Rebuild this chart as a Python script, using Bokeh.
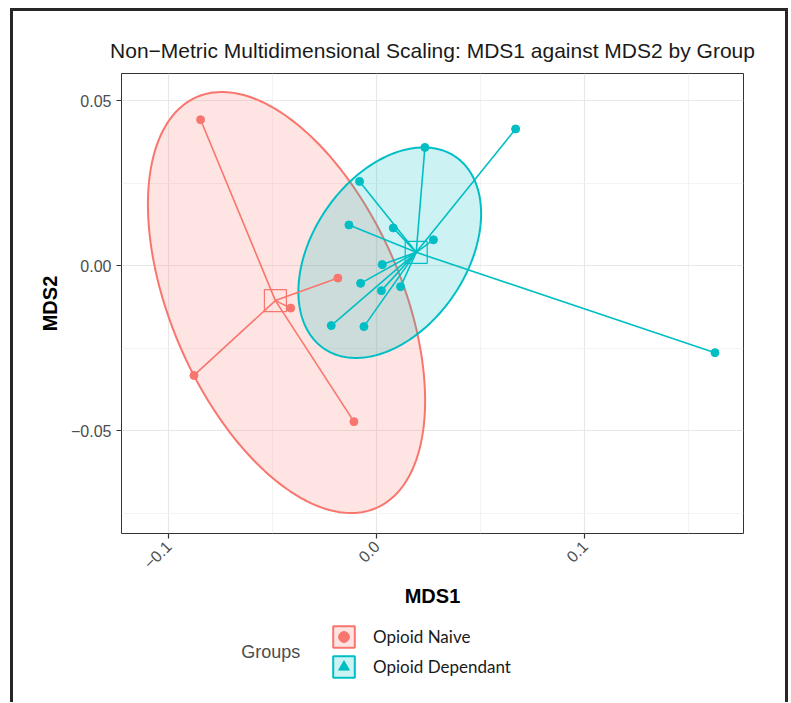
import numpy as np
from bokeh.plotting import figure
from bokeh.models import FixedTicker, Range1d, Legend, LegendItem, ColumnDataSource
from bokeh.layouts import column
from bokeh.embed import file_html
from bokeh.resources import INLINE
from bokeh.core.properties import value

# ---------------- data ----------------
groups = ["Opioid Naive", "Opioid Dependant"]
colors = ["#F8766D", "#00BFC4"]

naive_mds1 = [-0.0846, -0.0186, -0.0413, -0.0878, -0.0109]
naive_mds2 = [0.0442, -0.0038, -0.0129, -0.0333, -0.0473]

dep_mds1 = [0.0668, 0.0232, -0.0082, -0.0133, 0.0080, 0.0273, 0.0027,
            -0.0077, 0.0023, 0.0115, -0.0218, -0.0061, 0.1626]
dep_mds2 = [0.0414, 0.0358, 0.0255, 0.0123, 0.0114, 0.0078, 0.0003,
            -0.0054, -0.0076, -0.0064, -0.0182, -0.0185, -0.0264]

# 95% ellipses: centre, half extents, correlation
ell_cx = [-0.0433, 0.0063]
ell_cy = [-0.0112, 0.0039]
ell_hx = [0.0666, 0.0439]
ell_hy = [0.0638, 0.0319]
ell_rho = [-0.466, 0.370]

x_ticks = [-0.1, 0.0, 0.1]
x_tick_labels = ["\u22120.1", "0.0", "0.1"]
x_minor = [-0.05, 0.05, 0.15]
y_ticks = [-0.05, 0.0, 0.05]
y_tick_labels = ["\u22120.05", "0.00", "0.05"]
y_minor = [-0.075, -0.025, 0.025]
x_lim = (-0.1226, 0.1763)
y_lim = (-0.0812, 0.0582)

title = "Non\u2212Metric Multidimensional Scaling: MDS1 against MDS2 by Group"

FONT = "Liberation Sans"
BL, BR = 108, 42   # left / right borders shared by both figures
W = 772

# ---------------- main figure ----------------
p = figure(width=W, height=604, x_range=Range1d(*x_lim), y_range=Range1d(*y_lim),
           output_backend="svg", toolbar_location=None,
           min_border_left=BL, min_border_right=BR, min_border_top=62, min_border_bottom=82,
           title=title)
p.title.text_font = FONT
p.title.text_font_size = "21px"
p.title.text_font_style = "normal"
p.title.text_color = "#1a1a1a"
p.title.align = "center"
p.title.standoff = 23

p.outline_line_color = "#333333"
p.outline_line_width = 1
p.background_fill_color = "white"
p.border_fill_color = "white"

p.xaxis.ticker = FixedTicker(ticks=x_ticks, minor_ticks=x_minor)
p.yaxis.ticker = FixedTicker(ticks=y_ticks, minor_ticks=y_minor)
p.xaxis.major_label_overrides = dict(zip(x_ticks, x_tick_labels))
p.yaxis.major_label_overrides = dict(zip(y_ticks, y_tick_labels))
p.xaxis.major_label_orientation = np.pi / 4

for ax in (p.xaxis, p.yaxis):
    ax.axis_line_color = None
    ax.minor_tick_line_color = None
    ax.major_tick_line_color = "#333333"
    ax.major_tick_line_width = 1.2
    ax.major_tick_out = 5
    ax.major_tick_in = 0
    ax.major_label_text_font = FONT
    ax.major_label_text_font_size = "16px"
    ax.major_label_text_color = "#4D4D4D"
    ax.axis_label_text_font = FONT
    ax.axis_label_text_font_size = "20px"
    ax.axis_label_text_font_style = "bold"
    ax.axis_label_text_color = "#000000"

p.xaxis.axis_label = "MDS1"
p.yaxis.axis_label = "MDS2"
p.xaxis.axis_label_standoff = 8
p.yaxis.axis_label_standoff = 7

for g in (p.xgrid, p.ygrid):
    g.grid_line_color = "#E8E8E8"
    g.grid_line_width = 1.2
    g.minor_grid_line_color = "#F0F0F0"
    g.minor_grid_line_width = 0.8

xs_all = [naive_mds1, dep_mds1]
ys_all = [naive_mds2, dep_mds2]

# ellipses
t = np.linspace(0, 2 * np.pi, 241)
for i in range(2):
    ex = ell_cx[i] + ell_hx[i] * np.cos(t)
    ey = ell_cy[i] + ell_hy[i] * (ell_rho[i] * np.cos(t) + np.sqrt(1 - ell_rho[i] ** 2) * np.sin(t))
    p.patch(ex, ey, fill_color=colors[i], fill_alpha=0.2, line_color=colors[i], line_width=2)

# spiders, points, centroids
for i in range(2):
    xs = np.array(xs_all[i])
    ys = np.array(ys_all[i])
    mx, my = xs.mean(), ys.mean()
    p.segment(x0=np.full(len(xs), mx), y0=np.full(len(ys), my), x1=xs, y1=ys,
              line_color=colors[i], line_width=1.6)
    p.scatter(xs, ys, marker="circle", size=8, fill_color=colors[i], line_color=colors[i])
    p.scatter([mx], [my], marker="square", size=22, fill_color=None,
              line_color=colors[i], line_width=1.2)

# ---------------- legend figure (pixel coordinates) ----------------
LH = 87
q = figure(width=W, height=LH, x_range=Range1d(BL, W - BR), y_range=Range1d(0, LH),
           output_backend="svg", toolbar_location=None,
           min_border_left=BL, min_border_right=BR, min_border_top=0, min_border_bottom=0,
           x_axis_location=None, y_axis_location=None)
q.outline_line_color = None
q.grid.visible = False

off = ColumnDataSource(data=dict(x=[-500, -490, -495], y=[-500, -500, -490]))
key_box = [q.patch("x", "y", source=off, fill_color=c, fill_alpha=0.2, line_color=c, line_width=2)
           for c in colors]
key_pt = [q.scatter("x", "y", source=off, marker=m, fill_color=c, line_color=c)
          for m, c in zip(["circle", "triangle"], colors)]
items = [LegendItem(label=groups[i], renderers=[key_box[i], key_pt[i]]) for i in range(2)]
leg = Legend(items=items, location=(317 - BL, 15 + LH - 80), orientation="vertical",
             glyph_width=27, glyph_height=27, label_standoff=16, spacing=3,
             padding=0, margin=0, border_line_color=None, background_fill_alpha=0,
             label_text_font="Lato", label_text_font_size="17px", label_text_color="#1a1a1a",
             label_height=27)
q.add_layout(leg)
q.text(x=[227.7], y=[43.3 + LH - 80], text=["Groups"], text_font=value(FONT), text_font_size="18px",
       text_color="#4D4D4D", text_baseline="middle", text_align="left")

layout = column(p, q, styles={"border-top": "3px solid #262626",
                              "border-left": "3px solid #262626",
                              "border-right": "3px solid #262626",
                              "margin-left": "10px",
                              "margin-top": "8px"})

open("out.html", "w").write(file_html(layout, INLINE))
